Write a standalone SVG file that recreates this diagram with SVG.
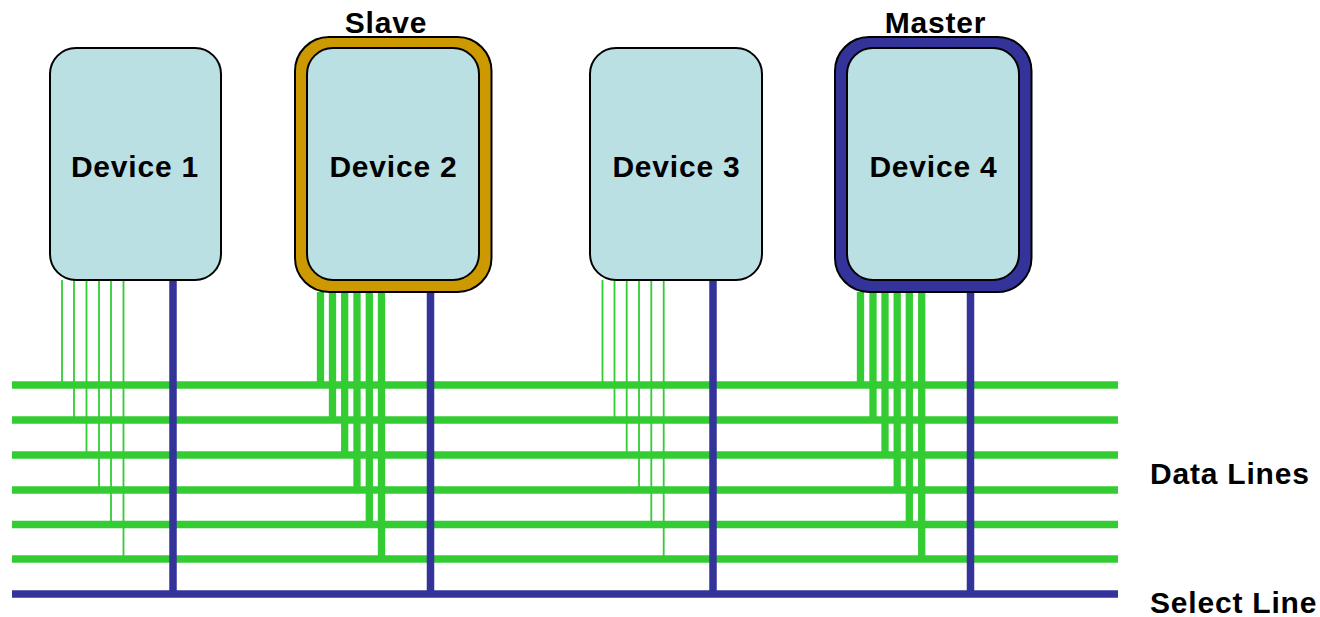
<svg xmlns="http://www.w3.org/2000/svg" width="1320" height="617" viewBox="0 0 1320 617">
<style>
.box{fill:#BBE0E3;stroke:#000;stroke-width:2}
.slave{fill:#CC9900;stroke:#000;stroke-width:2}
.master{fill:#333399;stroke:#000;stroke-width:2}
.g{stroke:#33CC33;stroke-width:7.5;fill:none}
.gt{stroke:#33CC33;stroke-width:1.8;fill:none}
.gk{stroke:#33CC33;stroke-width:7.3;fill:none}
.b{stroke:#333399;stroke-width:7.5;fill:none}
.lbl{font-family:"Liberation Sans",Arial,sans-serif;font-weight:bold;font-size:30px;letter-spacing:0.8px;fill:#000}
</style>
<rect width="1320" height="617" fill="#fff"/>
<g id="connectors">
  <g id="data-lines">
    <line class="g" x1="12" y1="385" x2="1118" y2="385"/>
    <line class="g" x1="12" y1="420" x2="1118" y2="420"/>
    <line class="g" x1="12" y1="455" x2="1118" y2="455"/>
    <line class="g" x1="12" y1="490" x2="1118" y2="490"/>
    <line class="g" x1="12" y1="524.5" x2="1118" y2="524.5"/>
    <line class="g" x1="12" y1="559" x2="1118" y2="559"/>
  </g>
  <g id="dev1-taps">
    <line class="gt" x1="62" y1="280" x2="62" y2="385"/>
    <line class="gt" x1="74" y1="280" x2="74" y2="420"/>
    <line class="gt" x1="86.5" y1="280" x2="86.5" y2="455"/>
    <line class="gt" x1="99" y1="280" x2="99" y2="490"/>
    <line class="gt" x1="111" y1="280" x2="111" y2="524.5"/>
    <line class="gt" x1="123.5" y1="280" x2="123.5" y2="559"/>
  </g>
  <g id="dev2-taps">
    <line class="gk" x1="320.5" y1="292" x2="320.5" y2="385"/>
    <line class="gk" x1="332.5" y1="292" x2="332.5" y2="420"/>
    <line class="gk" x1="344.7" y1="292" x2="344.7" y2="455"/>
    <line class="gk" x1="357" y1="292" x2="357" y2="490"/>
    <line class="gk" x1="369.3" y1="292" x2="369.3" y2="524.5"/>
    <line class="gk" x1="381.5" y1="292" x2="381.5" y2="559"/>
  </g>
  <g id="dev3-taps">
    <line class="gt" x1="602.5" y1="280" x2="602.5" y2="385"/>
    <line class="gt" x1="614.5" y1="280" x2="614.5" y2="420"/>
    <line class="gt" x1="626.7" y1="280" x2="626.7" y2="455"/>
    <line class="gt" x1="639" y1="280" x2="639" y2="490"/>
    <line class="gt" x1="651.3" y1="280" x2="651.3" y2="524.5"/>
    <line class="gt" x1="663.7" y1="280" x2="663.7" y2="559"/>
  </g>
  <g id="dev4-taps">
    <line class="gk" x1="860.5" y1="292" x2="860.5" y2="385"/>
    <line class="gk" x1="873" y1="292" x2="873" y2="420"/>
    <line class="gk" x1="885" y1="292" x2="885" y2="455"/>
    <line class="gk" x1="897.2" y1="292" x2="897.2" y2="490"/>
    <line class="gk" x1="909.3" y1="292" x2="909.3" y2="524.5"/>
    <line class="gk" x1="921.7" y1="292" x2="921.7" y2="559"/>
  </g>
  <g id="select-line">
    <line class="b" x1="173" y1="280" x2="173" y2="594"/>
    <line class="b" x1="430.5" y1="292" x2="430.5" y2="594"/>
    <line class="b" x1="713" y1="280" x2="713" y2="594"/>
    <line class="b" x1="970.5" y1="292" x2="970.5" y2="594"/>
    <line class="b" x1="12" y1="594" x2="1118" y2="594" stroke-width="8"/>
  </g>
</g>
<g id="device1">
  <rect class="box" x="50" y="48" width="171" height="232" rx="26"/>
  <text class="lbl" x="135" y="177" text-anchor="middle">Device 1</text>
</g>
<g id="device2">
  <rect class="slave" x="295" y="37" width="196.5" height="255" rx="34"/>
  <rect class="box" x="307" y="48" width="172" height="232" rx="26"/>
  <text class="lbl" x="393.5" y="177" text-anchor="middle">Device 2</text>
  <text class="lbl" x="386" y="32.5" text-anchor="middle">Slave</text>
</g>
<g id="device3">
  <rect class="box" x="590" y="48" width="172" height="232" rx="26"/>
  <text class="lbl" x="676.5" y="177" text-anchor="middle">Device 3</text>
</g>
<g id="device4">
  <rect class="master" x="835" y="37" width="196.5" height="255" rx="34"/>
  <rect class="box" x="847" y="48" width="172" height="232" rx="26"/>
  <text class="lbl" x="933.5" y="177" text-anchor="middle">Device 4</text>
  <text class="lbl" x="935.5" y="32.5" text-anchor="middle">Master</text>
</g>
<g id="labels">
  <text class="lbl" x="1150" y="484">Data Lines</text>
  <text class="lbl" x="1150" y="613">Select Line</text>
</g>
</svg>
